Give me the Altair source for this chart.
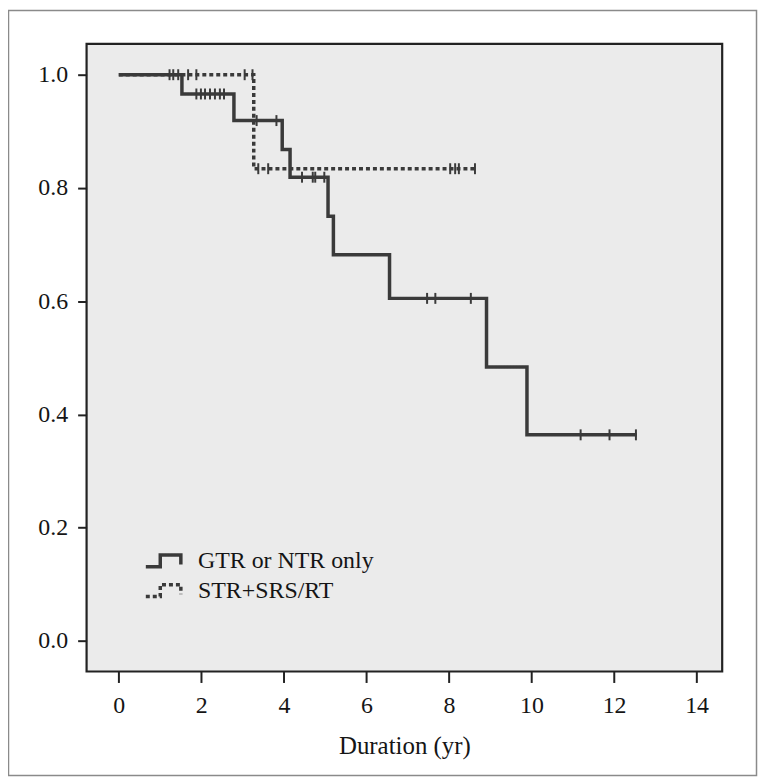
import altair as alt
import pandas as pd

groups = ["GTR or NTR only", "STR+SRS/RT"]

# Kaplan-Meier step points (time in years, survival after that time)
gtr_time = [0.0, 1.53, 2.79, 3.96, 4.15, 5.07, 5.20, 6.56, 8.91, 9.89, 12.55]
gtr_surv = [1.0, 0.966, 0.919, 0.868, 0.819, 0.750, 0.682, 0.605, 0.484, 0.364, 0.364]
str_time = [0.0, 3.27, 8.65]
str_surv = [1.0, 0.834, 0.834]

# censored observations (time)
gtr_cens = [1.23, 1.32, 1.44, 1.88, 1.99, 2.09, 2.21, 2.33, 2.45, 2.55,
             3.34, 3.82, 4.44, 4.70, 4.76, 4.98, 7.47, 7.67, 8.53,
             11.19, 11.89, 12.53]
str_cens = [1.68, 1.88, 3.05, 3.24, 3.38, 3.62, 8.03, 8.15, 8.24, 8.63]

x_ticks = [0, 2, 4, 6, 8, 10, 12, 14]
y_ticks = [0.0, 0.2, 0.4, 0.6, 0.8, 1.0]


def surv_at(t, times, survs):
    s = survs[0]
    for ti, si in zip(times, survs):
        if ti <= t:
            s = si
    return s


curves = pd.DataFrame(
    [{"t": t, "s": s, "g": groups[0]} for t, s in zip(gtr_time, gtr_surv)]
    + [{"t": t, "s": s, "g": groups[1]} for t, s in zip(str_time, str_surv)]
)
cens = pd.DataFrame(
    [{"t": t, "s": surv_at(t, gtr_time, gtr_surv), "g": groups[0]} for t in gtr_cens]
    + [{"t": t, "s": surv_at(t, str_time, str_surv), "g": groups[1]} for t in str_cens]
)

LINE = "#3a3a3a"
FONT = "Liberation Serif"
TXT = "#151515"

xscale = alt.Scale(domain=[-0.78, 14.62], nice=False, zero=False)
yscale = alt.Scale(domain=[-0.054, 1.0545], nice=False, zero=False)

xax = alt.Axis(values=x_ticks, title="Duration (yr)", grid=False, domain=False,
               tickSize=11, tickWidth=2, tickColor="#222",
               labelFont=FONT, labelFontSize=24, labelColor=TXT, labelPadding=11,
               titleFont=FONT, titleFontSize=25, titleFontWeight="normal",
               titleColor=TXT, titlePadding=16)
yax = alt.Axis(values=y_ticks, format=".1f", title=None, grid=False, domain=False,
               tickSize=9, tickWidth=2, tickColor="#222",
               labelFont=FONT, labelFontSize=24, labelColor=TXT, labelPadding=10)

SYM = "M-1.65,0.5L-0.35,0.5L-0.35,-0.55L1.5,-0.55L1.5,0.3"
leg = alt.Legend(title=None, orient="none", legendX=65, legendY=507,
                 symbolType=SYM, symbolSize=500, symbolStrokeWidth=3.5,
                 labelFont=FONT, labelFontSize=24, labelColor=TXT,
                 labelOffset=21, labelLimit=0, rowPadding=3)

lines = alt.Chart(curves).mark_line(interpolate="step-after", strokeWidth=3.5).encode(
    x=alt.X("t:Q", scale=xscale, axis=xax),
    y=alt.Y("s:Q", scale=yscale, axis=yax),
    color=alt.Color("g:N", scale=alt.Scale(domain=groups, range=[LINE, LINE]), legend=leg),
    strokeDash=alt.StrokeDash("g:N", scale=alt.Scale(domain=groups, range=[[1, 0], [4, 3]]),
                              legend=leg),
    detail="g:N",
)

ticks = alt.Chart(cens).mark_point(shape="M0,-1L0,1", size=121, strokeWidth=2,
                                   filled=False, color=LINE, opacity=1).encode(
    x=alt.X("t:Q", scale=xscale),
    y=alt.Y("s:Q", scale=yscale),
)

border = alt.Chart(pd.DataFrame({"a": [0]})).mark_rect(
    fill=None, stroke="#8a8a8a", strokeWidth=1.5
).encode(
    x=alt.value(-78.5), x2=alt.value(673.5),
    y=alt.value(-33.5), y2=alt.value(735.5),
)

chart = alt.layer(border, lines, ticks).properties(
    width=639, height=631,
    autosize=alt.AutoSizeParams(type="none"),
    padding={"left": 79, "top": 34, "right": 36, "bottom": 106},
).configure_view(fill="#ebebeb", stroke="#222222", strokeWidth=2.2)

chart.save("out.html", embed_options={"renderer": "svg", "actions": False})
